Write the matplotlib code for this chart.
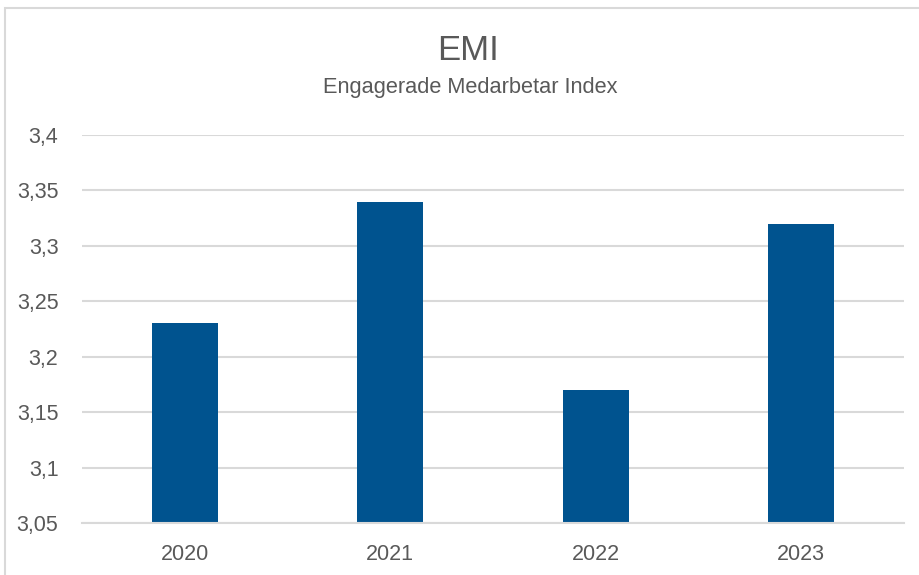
import matplotlib.pyplot as plt
from matplotlib.patches import Rectangle
from matplotlib.ticker import FuncFormatter

plt.rcParams['font.family'] = ['Liberation Sans', 'DejaVu Sans']

# ===================== DATA =====================
years = ["2020", "2021", "2022", "2023"]
emi = [3.23, 3.34, 3.17, 3.32]
yticks = [3.05, 3.1, 3.15, 3.2, 3.25, 3.3, 3.35, 3.4]

TEXT = "#595959"
BAR = "#00538F"
GRID = "#D9D9D9"

W, H = 920, 575
fig = plt.figure(figsize=(W / 100, H / 100), dpi=100)

# chart border like the Excel frame (cut off right and bottom)
fig.patches.append(Rectangle((5 / W, -0.1), 1.2, 1.1 - 8 / H, transform=fig.transFigure,
                             fill=False, edgecolor=GRID, linewidth=1.5))

ax = fig.add_axes([82 / W, 1 - 523 / H, (904 - 82) / W, (523 - 135) / H])
ax.bar(years, emi, width=0.32, color=BAR, zorder=2)
ax.set_ylim(3.05, 3.4)
ax.set_xlim(-0.5, len(years) - 0.5)
ax.set_yticks(yticks)
ax.yaxis.set_major_formatter(FuncFormatter(lambda v, p: f"{v:g}".replace(".", ",")))
ax.grid(axis="y", color=GRID, linewidth=1.5, zorder=0)
for s in ax.spines.values():
    s.set_visible(False)
ax.spines["bottom"].set_visible(True)
ax.spines["bottom"].set_color(GRID)
ax.spines["bottom"].set_linewidth(1.5)
ax.tick_params(length=0, labelsize=15.5, colors=TEXT)
ax.tick_params(axis="y", pad=17)
ax.tick_params(axis="x", pad=15)

fig.text(468 / W, 1 - 50 / H, "EMI", ha="center", va="center", fontsize=25, color=TEXT)
fig.text(470 / W, 1 - 88 / H, "Engagerade Medarbetar Index", ha="center", va="center",
         fontsize=15.7, color=TEXT)

fig.savefig("out.png", dpi=100)
